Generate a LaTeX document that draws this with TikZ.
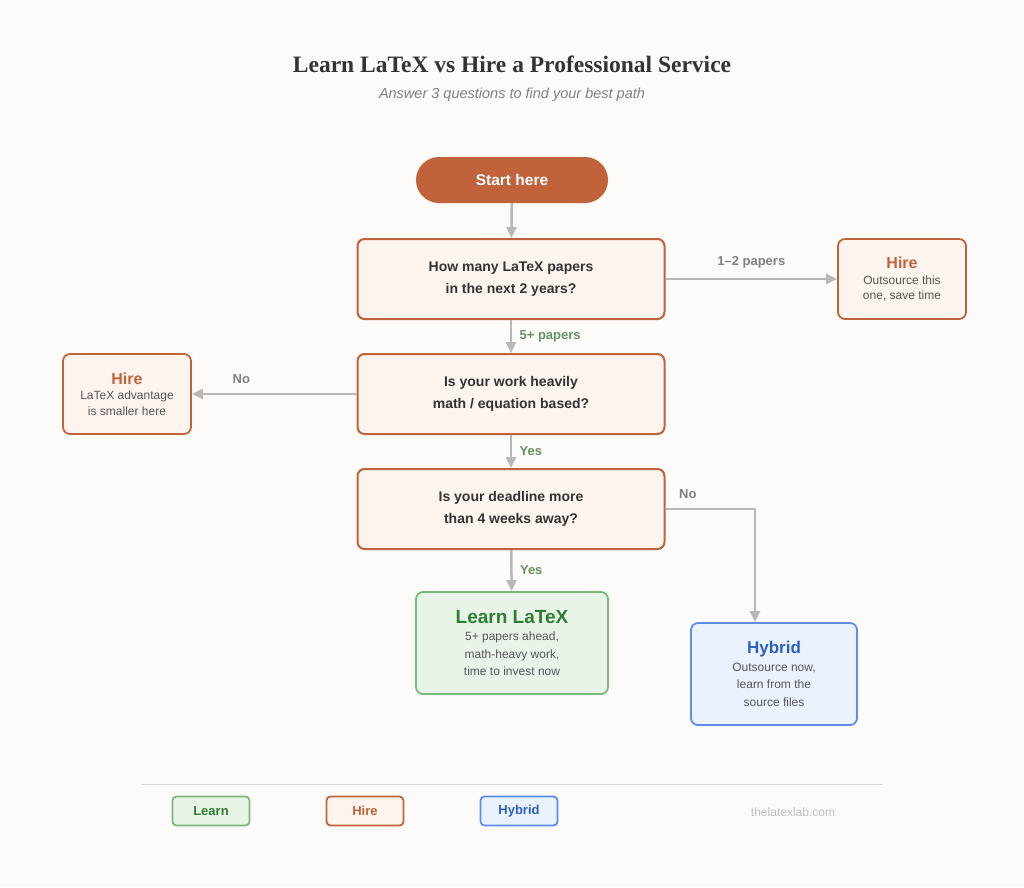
\documentclass[tikz,border=0pt]{standalone}
\usepackage{fontspec}
\setmainfont{Liberation Sans}
\newfontfamily\titlefont{Liberation Serif}
\usetikzlibrary{arrows.meta,positioning}
\definecolor{bgc}{HTML}{FCFBF9}
\definecolor{rust}{HTML}{C0623A}
\definecolor{rustfill}{HTML}{FEF4EE}
\definecolor{grn}{HTML}{2E7D32}
\definecolor{grnline}{HTML}{7DB87A}
\definecolor{grnfill}{HTML}{E9F4E9}
\definecolor{blu}{HTML}{2B5FC1}
\definecolor{bluline}{HTML}{5B8DEF}
\definecolor{blufill}{HTML}{EAF2FE}
\definecolor{arr}{HTML}{B8B8B8}
\definecolor{txt}{HTML}{333333}
\definecolor{sub}{HTML}{555555}
\tikzset{
  question/.style={draw=rust, line width=2pt, fill=rustfill, rounded corners=7pt,
    minimum width=307pt, minimum height=80pt, align=center, text=txt,
    font=\fontsize{14}{22}\selectfont\bfseries},
  hire/.style={draw=rust, line width=1.8pt, fill=rustfill, rounded corners=7pt,
    minimum width=128pt, minimum height=80pt, align=center, text=sub,
    font=\fontsize{12}{15.5}\selectfont},
  result/.style={line width=1.8pt, rounded corners=7pt, minimum height=102pt,
    align=center, text=sub, font=\fontsize{12}{17.5}\selectfont},
  legend/.style={line width=1.8pt, rounded corners=4pt, minimum width=77pt,
    minimum height=29pt, font=\fontsize{13}{15}\selectfont\bfseries},
  connect/.style={-{Triangle[length=11pt,width=10pt]}, draw=arr, line width=2.5pt},
  edgelabel/.style={font=\fontsize{13}{15}\selectfont\bfseries}
}
\begin{document}
\begin{tikzpicture}[x=1pt,y=-1pt]
  \fill[bgc] (0,0) rectangle (1024,887);
  \useasboundingbox (0,0) rectangle (1024,887);

  % heading
  \node[font=\titlefont\fontsize{23.5}{26}\selectfont\bfseries, text=txt] (title) at (512,64) {Learn LaTeX vs Hire a Professional Service};
  \node[font=\fontsize{14.5}{16}\selectfont\itshape, text=gray] (subtitle) at (512,95) {Answer 3 questions to find your best path};

  % main column
  \node[fill=rust, rounded corners=23pt, minimum width=192pt, minimum height=46pt,
    text=white, font=\fontsize{15.5}{18}\selectfont\bfseries] (start) at (512,180) {Start here};
  \node[question] (q1) at (511,279) {How many LaTeX papers\\in the next 2 years?};
  \node[question] (q2) at (511,394) {Is your work heavily\\math / equation based?};
  \node[question] (q3) at (511,509) {Is your deadline more\\than 4 weeks away?};

  % outcomes
  \node[hire] (hire1) at (902,279) {{\color{rust}\fontsize{16}{22}\selectfont\bfseries Hire}\\Outsource this\\one, save time};
  \node[hire] (hire2) at (127,394) {{\color{rust}\fontsize{16}{22}\selectfont\bfseries Hire}\\LaTeX advantage\\is smaller here};
  \node[result, draw=grnline, fill=grnfill, minimum width=192pt] (learn) at (512,643)
    {{\color{grn}\fontsize{19}{30}\selectfont\bfseries Learn LaTeX}\\5+ papers ahead,\\math-heavy work,\\time to invest now};
  \node[result, draw=bluline, fill=blufill, minimum width=166pt] (hybrid) at (774,674)
    {{\color{blu}\fontsize{17}{28}\selectfont\bfseries Hybrid}\\Outsource now,\\learn from the\\source files};

  % Connect the nodes
  \draw[connect] (start) -- (q1);
  \draw[connect] (q1) -- node[edgelabel, text=grnline!80!black, right=4pt] {5+ papers} (q2);
  \draw[connect] (q2) -- node[edgelabel, text=grnline!80!black, right=4pt] {Yes} (q3);
  \draw[connect] (q3) -- node[edgelabel, text=grnline!80!black, right=4pt] {Yes} (learn);
  \draw[connect] (q1) -- node[edgelabel, text=gray, above=6pt] {1--2 papers} (hire1);
  \draw[connect] (q2) -- node[edgelabel, text=gray, above=6pt, pos=0.7] {No} (hire2);
  \coordinate (bend) at (755,509);
  \draw[connect] (q3.east) -- node[edgelabel, text=gray, above=6pt, pos=0.25] {No} (bend) -- (hybrid.north -| bend);

  % legend
  \coordinate (rulel) at (141,784);
  \coordinate (ruler) at (883,784);
  \draw[gray!30, line width=0.8pt] (rulel) -- (ruler);
  \node[legend, draw=grnline, fill=grnfill, text=grn] (keylearn) at (211,811) {Learn};
  \node[legend, draw=rust, fill=rustfill, text=rust] (keyhire) at (365,811) {Hire};
  \node[legend, draw=bluline, fill=blufill, text=blu] (keyhybrid) at (519,811) {Hybrid};
  \node[font=\fontsize{12}{14}\selectfont, text=gray!50] (site) at (793,812) {thelatexlab.com};
\end{tikzpicture}
\end{document}
